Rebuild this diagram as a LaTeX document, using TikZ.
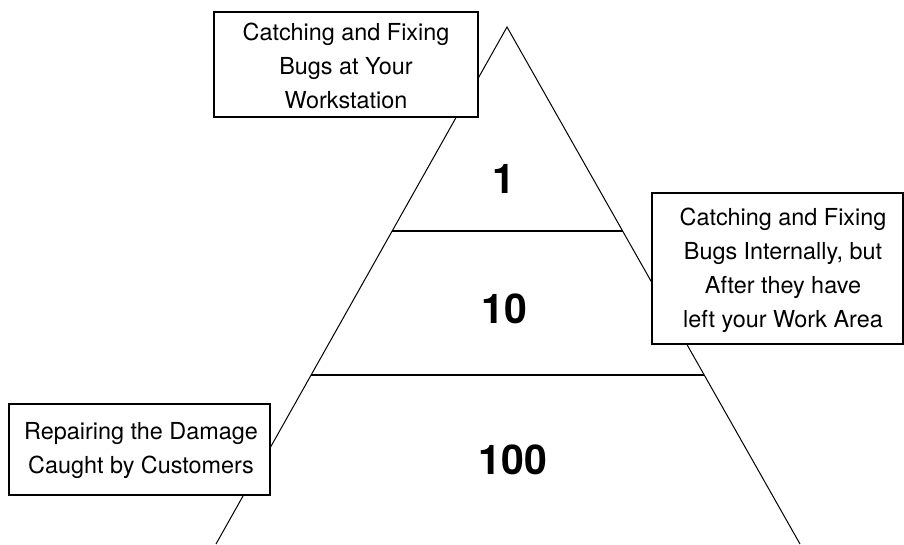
\documentclass[tikz,border=0pt]{standalone}
\usepackage{fontspec}
\setmainfont{TeX Gyre Heros}
\usetikzlibrary{calc}
\begin{document}
\begin{tikzpicture}[x=1pt,y=-1pt,
  side/.style={line width=1pt},
  divider/.style={line width=2pt},
  callout/.style={draw,line width=1.2pt,fill=white,inner sep=0pt},
  calltext/.style={align=center,font=\fontsize{23.4}{34}\selectfont},
  cost/.style={anchor=base,font=\fontsize{41}{46}\selectfont\bfseries}]
  \useasboundingbox (0,0) rectangle (904,544);

  % pyramid outline
  \coordinate (apex) at (507,27);
  \coordinate (bl) at (216,544);
  \coordinate (br) at (800,544);
  \draw[side] (bl) -- (apex) -- (br);

  % tier dividers
  \coordinate (d1l) at ($(apex)!0.3946!(bl)$);
  \coordinate (d1r) at ($(apex)!0.3946!(br)$);
  \coordinate (d2l) at ($(apex)!0.6731!(bl)$);
  \coordinate (d2r) at ($(apex)!0.6731!(br)$);
  \draw[divider] (d1l) -- (d1r);
  \draw[divider] (d2l) -- (d2r);

  % cost factors
  \node[cost] (c1) at (504,193) {1};
  \node[cost] (c10) at (504,323) {10};
  \node[cost] (c100) at (513,474) {100};

  % callout boxes
  \node[callout,minimum width=264pt,minimum height=105pt] (topbox) at (346,64.5) {};
  \node[calltext] (toptext) at (346,66) {Catching and Fixing\\Bugs at Your\\Workstation};

  \node[callout,minimum width=251pt,minimum height=151pt] (rightbox) at (777.5,268.5) {};
  \node[calltext] (righttext) at (783,270) {Catching and Fixing\\Bugs Internally, but\\After they have\\left your Work Area};

  \node[callout,minimum width=261pt,minimum height=91pt] (leftbox) at (139.5,449.5) {};
  \node[calltext] (lefttext) at (141,451) {Repairing the Damage\\Caught by Customers};
\end{tikzpicture}
\end{document}
